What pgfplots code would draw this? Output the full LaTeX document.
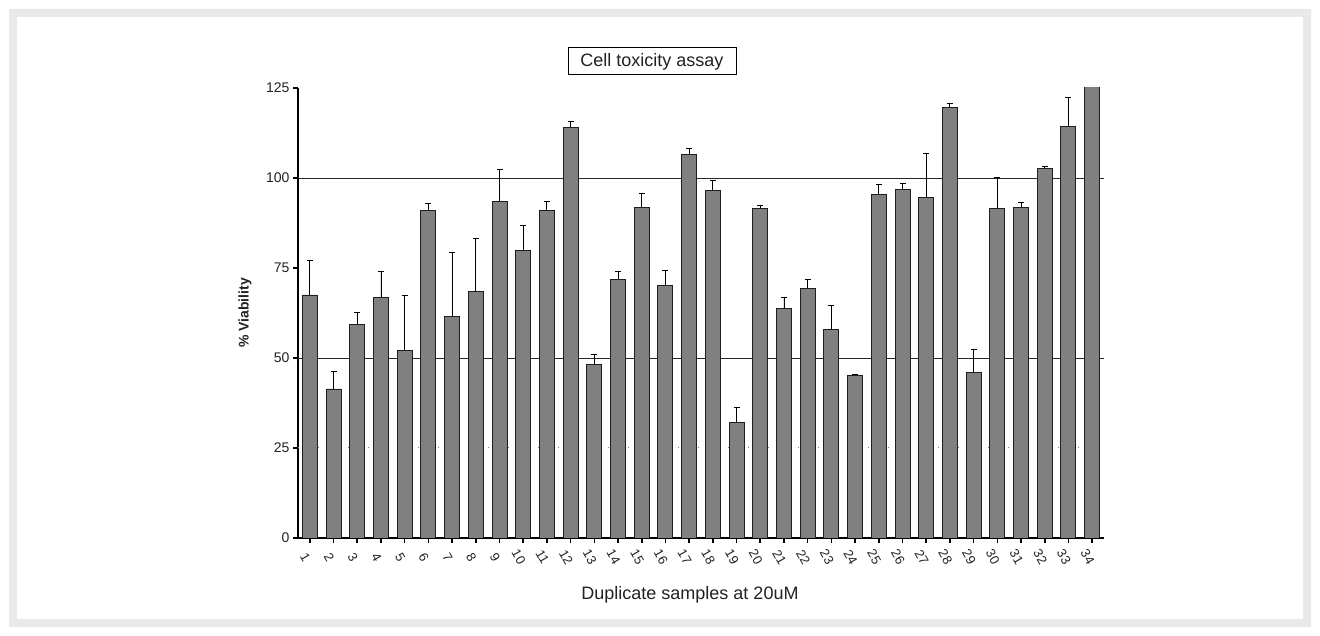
\documentclass[border=0pt]{standalone}
\usepackage{pgfplots}
\pgfplotsset{compat=1.18}
\usepackage{pgfplotstable}
\usepackage{fontspec}
\setmainfont{Liberation Sans}
\definecolor{barfill}{HTML}{808080}
\definecolor{barline}{HTML}{1E1E1E}
\definecolor{frameband}{HTML}{E9E9E9}
\definecolor{txt}{HTML}{222222}

\pgfplotstableread{
x y e
1 67.5 9.5
2 41.4 4.8
3 59.4 3.2
4 66.7 7.3
5 52.1 15.4
6 91.1 1.9
7 61.5 17.8
8 68.4 14.9
9 93.6 8.8
10 79.8 6.9
11 91.1 2.5
12 114.1 1.7
13 48.3 2.8
14 71.9 2.1
15 91.9 3.8
16 70.1 4.3
17 106.4 1.8
18 96.4 2.8
19 32.0 4.3
20 91.6 0.7
21 63.8 3.0
22 69.4 2.4
23 58.0 6.7
24 45.2 0.3
25 95.4 2.7
26 96.8 1.6
27 94.7 12.1
28 119.6 1.1
29 45.9 6.6
30 91.5 8.7
31 91.9 1.3
32 102.7 0.6
33 114.4 8.0
}\viab

\pgfplotstableread{
x y
34 126
}\viablast

\begin{document}
\begin{tikzpicture}
\fill[white] (0pt,0pt) rectangle (1320pt,636pt);
\fill[frameband, even odd rule] (9pt,9pt) rectangle (1311pt,627pt) (17pt,17pt) rectangle (1303pt,619pt);
\begin{axis}[
  at={(298pt,98pt)}, anchor=south west,
  scale only axis, width=806pt, height=450pt,
  xmin=0.5, xmax=34.5, ymin=0, ymax=125,
  axis x line=bottom, axis y line=left,
  axis line style={-, line width=1.8pt, black},
  xtick={1,...,34}, ytick={0,25,50,75,100,125},
  tick align=outside, major tick length=5pt,
  every tick/.style={black, line width=1.6pt},
  /pgf/number format/assume math mode=true,
  yticklabel style={font=\fontsize{14}{14}\selectfont, text=txt},
  xticklabel style={font=\fontsize{13}{13}\selectfont, text=txt, xshift=-4.5pt, yshift=-14pt, rotate=-60, anchor=center},
  ybar, bar width=15pt,
]
\addplot[draw=black!85, line width=0.9pt, forget plot, sharp plot] coordinates {(0.5,100) (34.5,100)};
\addplot[draw=black!50, line width=1pt, dash pattern=on 1pt off 9pt, forget plot, sharp plot] coordinates {(0.5,25) (34.5,25)};
\addplot[draw=black!85, line width=0.9pt, forget plot, sharp plot] coordinates {(0.5,50) (34.5,50)};
\addplot[ybar, bar shift=0pt, fill=barfill, draw=barline, line width=0.9pt,
  error bars/.cd, y dir=plus, y explicit,
  error bar style={line width=0.9pt, black},
  error mark options={rotate=90, mark size=3pt, line width=0.9pt, black}]
  table[x=x, y=y, y error=e] {\viab};
\addplot[ybar, bar shift=0pt, fill=barfill, draw=barline, line width=0.9pt]
  table[x=x, y=y] {\viablast};
\end{axis}
\node[draw=black, line width=1pt, minimum width=168pt, minimum height=27pt, inner sep=0pt, text=txt, font=\fontsize{18}{18}\selectfont] at (652pt,574.5pt) {Cell toxicity assay};
\node[text=txt, font=\fontsize{18}{18}\selectfont] at (690pt,41pt) {Duplicate samples at 20uM};
\node[rotate=90, text=txt, font=\bfseries\fontsize{14}{14}\selectfont] at (245pt,323pt) {\% Viability};
\end{tikzpicture}
\end{document}
